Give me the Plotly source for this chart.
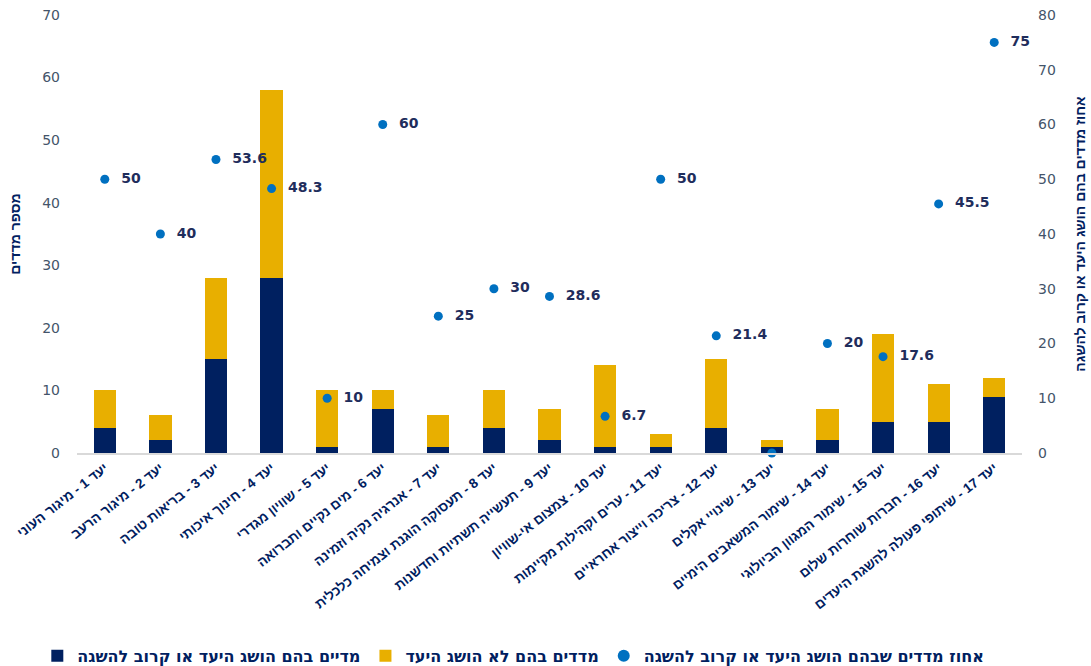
import plotly.graph_objects as go

categories = [
    "יעד 1 - מיגור העוני",
    "יעד 2 - מיגור הרעב",
    "יעד 3 - בריאות טובה",
    "יעד 4 - חינוך איכותי",
    "יעד 5 - שוויון מגדרי",
    "יעד 6 - מים נקיים ותברואה",
    "יעד 7 - אנרגיה נקיה וזמינה",
    "יעד 8 - תעסוקה הוגנת וצמיחה כלכלית",
    "יעד 9 - תעשייה תשתיות וחדשנות",
    "יעד 10 - צמצום אי-שוויון",
    "יעד 11 - ערים וקהילות מקיימות",
    "יעד 12 - צריכה וייצור אחראיים",
    "יעד 13 - שינויי אקלים",
    "יעד 14 - שימור המשאבים הימיים",
    "יעד 15 - שימור המגוון הביולוגי",
    "יעד 16 - חברות שוחרות שלום",
    "יעד 17 - שיתופי פעולה להשגת היעדים",
]
achieved = [4, 2, 15, 28, 1, 7, 1, 4, 2, 1, 1, 4, 1, 2, 5, 5, 9]
not_achieved = [6, 4, 13, 30, 9, 3, 5, 6, 5, 13, 2, 11, 1, 5, 14, 6, 3]
pct = [50, 40, 53.6, 48.3, 10, 60, 25, 30, 28.6, 6.7, 50, 21.4, 0, 20, 17.6, 45.5, 75]
pct_labels = ["50", "40", "53.6", "48.3", "10", "60", "25", "30", "28.6", "6.7",
              "50", "21.4", "", "20", "17.6", "45.5", "75"]

name_achieved = "מדיים בהם הושג היעד או קרוב להשגה"
name_not = "מדדים בהם לא הושג היעד"
name_pct = "אחוז מדדים שבהם הושג היעד או קרוב להשגה"

NAVY = "#002060"
GOLD = "#E8AF00"
BLUE = "#0070C0"
TICK = "#44546A"
HEB = "Liberation Sans, DejaVu Sans, sans-serif"

fig = go.Figure()
fig.add_trace(go.Bar(x=categories, y=achieved, name=name_achieved,
                     marker=dict(color=NAVY, line=dict(width=0)), width=0.4))
fig.add_trace(go.Bar(x=categories, y=not_achieved, name=name_not,
                     marker=dict(color=GOLD, line=dict(width=0)), width=0.4))
fig.add_trace(go.Scatter(x=categories, y=pct, name=name_pct, yaxis="y2",
                         mode="markers+text", text=["  " + t for t in pct_labels],
                         textposition="middle right", cliponaxis=False,
                         textfont=dict(family="DejaVu Sans", size=14, color="#1F2D5C", weight="bold"),
                         marker=dict(color=BLUE, size=9, symbol="circle")))

fig.update_layout(
    width=1091, height=666,
    barmode="stack",
    paper_bgcolor="white", plot_bgcolor="white",
    margin=dict(l=77, r=69, t=15, b=213, autoexpand=False),
    showlegend=True,
    legend=dict(orientation="h", x=-0.042, xanchor="left", y=-0.463, yanchor="middle",
                xref="paper", yref="paper", itemwidth=30,
                font=dict(family="DejaVu Sans", size=16, color=NAVY, weight="bold"),
                itemsizing="constant", traceorder="normal"),
    xaxis=dict(range=[-0.5, 16.5], tickangle=-38, automargin=False, showgrid=False, showline=True,
               linecolor="#D9D9D9", linewidth=2, ticks="",
               tickfont=dict(family=HEB, size=13.5, color=NAVY, weight="bold")),
    yaxis=dict(range=[0, 70], dtick=10, showgrid=False, zeroline=False, showline=False,
               automargin=False, ticklabelstandoff=16,
               tickfont=dict(family="DejaVu Sans", size=14, color=TICK),
               title=dict(text="מספר מדדים", standoff=18,
                          font=dict(family=HEB, size=14, color=NAVY, weight="bold"))),
    yaxis2=dict(range=[0, 80], dtick=10, overlaying="y", side="right", showgrid=False,
                zeroline=False, showline=False, automargin=False, ticklabelstandoff=15,
                tickfont=dict(family="DejaVu Sans", size=14, color=TICK),
                title=dict(text="אחוז מדדים בהם הושג היעד או קרוב להשגה", standoff=20,
                           font=dict(family=HEB, size=14, color=NAVY, weight="bold"))),
)

fig.write_html("out.html", config={"displayModeBar": False},
               post_script="document.body.style.margin='0';")
